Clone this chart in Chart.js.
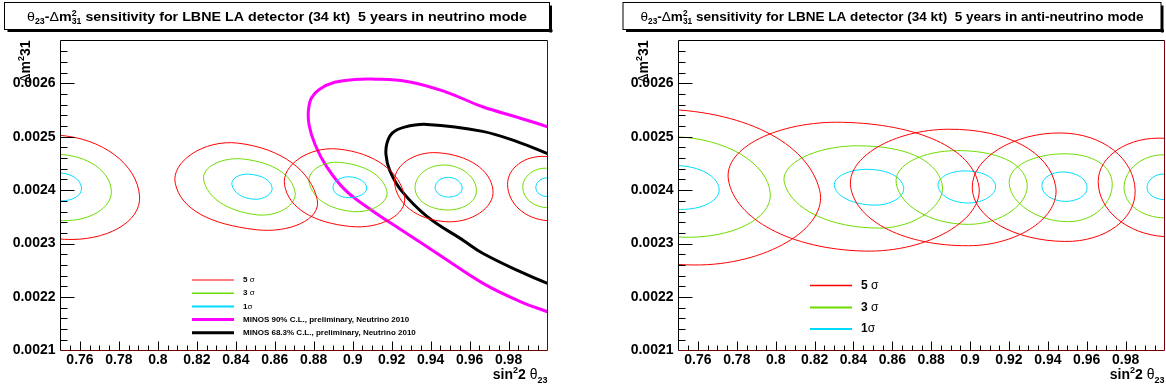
<!DOCTYPE html>
<html>
<head>
<meta charset="utf-8">
<script src="https://cdn.jsdelivr.net/npm/chart.js@4.4.1/dist/chart.umd.min.js"></script>
<style>
  html, body { margin: 0; padding: 0; background: #fff; }
  body { width: 1166px; height: 390px; overflow: hidden; position: relative; }
  .panel { position: absolute; top: 0; width: 583px; height: 390px; }
  #p1 { left: 0; }
  #p2 { left: 618px; }
</style>
</head>
<body>
<div class="panel" id="p1"><canvas id="c1" width="583" height="390"></canvas></div>
<div class="panel" id="p2"><canvas id="c2" width="583" height="390"></canvas></div>
<script>
/* ── axis ticks ─────────────────────────────────────── */
const xTicks = [0.76, 0.78, 0.80, 0.82, 0.84, 0.86, 0.88, 0.90, 0.92, 0.94, 0.96, 0.98];
const yTicks = [0.0021, 0.0022, 0.0023, 0.0024, 0.0025, 0.0026];
const X_MIN = 0.75, X_MAX = 1.0, Y_MIN = 0.0021, Y_MAX = 0.00268;

/* ── neutrino mode contours (left, top, right, bottom) ── */
const nuSigma5 = [
  [[0.7094, 0.002405], [0.748, 0.002503], [0.7906, 0.002389], [0.752, 0.002308]],
  [[0.8089, 0.002413], [0.841, 0.002488], [0.8818, 0.002382], [0.8504, 0.002326]],
  [[0.865, 0.00241], [0.8924, 0.002477], [0.9266, 0.002388], [0.899, 0.002332]],
  [[0.9215, 0.002413], [0.9438, 0.00247], [0.972, 0.0024], [0.9476, 0.002341]],
  [[0.9795, 0.00241], [0.999, 0.002463], [1.0205, 0.0024], [1.0, 0.002343]]
];
const nuSigma3 = [
  [[0.724, 0.002405], [0.749, 0.002467], [0.7761, 0.002399], [0.751, 0.002343]],
  [[0.8235, 0.002419], [0.8445, 0.002458], [0.8704, 0.002397], [0.8504, 0.002354]],
  [[0.8777, 0.002413], [0.8932, 0.002452], [0.9175, 0.002399], [0.9, 0.00236]],
  [[0.932, 0.002405], [0.9476, 0.002447], [0.9635, 0.002399], [0.9476, 0.002363]],
  [[0.9873, 0.002405], [0.9995, 0.002441], [1.012, 0.0024], [1.0, 0.002367]]
];
const nuSigma1 = [
  [[0.739, 0.002404], [0.7495, 0.002432], [0.7608, 0.002404], [0.7505, 0.00238]],
  [[0.838, 0.00241], [0.8466, 0.00243], [0.8586, 0.002405], [0.8494, 0.002383]],
  [[0.8899, 0.002405], [0.898, 0.002425], [0.9072, 0.002404], [0.898, 0.002386]],
  [[0.9423, 0.002405], [0.9491, 0.002424], [0.9562, 0.002404], [0.9491, 0.002387]],
  [[0.994, 0.002405], [1.0, 0.002423], [1.006, 0.002404], [1.0, 0.002388]]
];

/* ── MINOS allowed regions (neutrino panel only) ───── */
const minos90 = [
  [1.005, 0.002166], [0.9997, 0.002173], [0.9857, 0.002192], [0.9667, 0.002226],
  [0.9457, 0.002276], [0.9248, 0.002326], [0.9095, 0.002363], [0.8962, 0.0024],
  [0.8866, 0.002444], [0.8807, 0.002485], [0.8776, 0.002522], [0.8773, 0.00255],
  [0.8789, 0.002573], [0.883, 0.002589], [0.8907, 0.002602], [0.9009, 0.002607],
  [0.9096, 0.002608], [0.9286, 0.002603], [0.9476, 0.002584], [0.9667, 0.002556],
  [0.9857, 0.002535], [0.9997, 0.002519], [1.005, 0.002512]
];
const minos68 = [
  [1.005, 0.00222], [0.9997, 0.002226], [0.9857, 0.002248], [0.9667, 0.002282],
  [0.9572, 0.002305], [0.9381, 0.002351], [0.9248, 0.0024], [0.9189, 0.002438],
  [0.9171, 0.002466], [0.9176, 0.002488], [0.9204, 0.002507], [0.9266, 0.002518],
  [0.9381, 0.002523], [0.9667, 0.00251], [0.9857, 0.002489], [0.9997, 0.002469],
  [1.005, 0.002462]
];

/* ── anti-neutrino mode contours ────────────────────── */
const anuSigma5 = [
  [[0.678, 0.002405], [0.738, 0.002552], [0.8226, 0.0024], [0.758, 0.00226]],
  [[0.7757, 0.002419], [0.8344, 0.002527], [0.9045, 0.002408], [0.8458, 0.002286]],
  [[0.8386, 0.002405], [0.889, 0.002514], [0.944, 0.002407], [0.8992, 0.002296]],
  [[0.9011, 0.002404], [0.9468, 0.002507], [0.9849, 0.0024], [0.9487, 0.002304]],
  [[0.9659, 0.002416], [1.0, 0.002497], [1.034, 0.0024], [1.0, 0.002313]]
];
const anuSigma3 = [
  [[0.703, 0.002405], [0.748, 0.0025], [0.7972, 0.002394], [0.752, 0.002312]],
  [[0.8045, 0.002413], [0.842, 0.002483], [0.8855, 0.002413], [0.8534, 0.002329]],
  [[0.862, 0.002413], [0.8935, 0.002474], [0.9293, 0.002413], [0.8992, 0.002336]],
  [[0.9201, 0.002413], [0.9487, 0.002468], [0.9731, 0.002413], [0.9506, 0.002341]],
  [[0.9792, 0.002405], [1.0, 0.002466], [1.021, 0.0024], [1.0, 0.002348]]
];
const anuSigma1 = [
  [[0.729, 0.002405], [0.749, 0.002446], [0.7709, 0.002402], [0.751, 0.002364]],
  [[0.8302, 0.002408], [0.8477, 0.002439], [0.8658, 0.002405], [0.8506, 0.002372]],
  [[0.8835, 0.002408], [0.8973, 0.002436], [0.9131, 0.002408], [0.8992, 0.002376]],
  [[0.9369, 0.002408], [0.9483, 0.002434], [0.9602, 0.002405], [0.9487, 0.002379]],
  [[0.991, 0.002405], [1.0, 0.00243], [1.009, 0.0024], [1.0, 0.002382]]
];

// line colours (ROOT-ish)
const RED = '#ff0000', GREEN = '#6fdc00', CYAN = '#00dcff', MAGENTA = '#ff00ff', BLACK = '#000000';

const FONT = '"Liberation Sans", Arial, sans-serif';
const f = (px, bold) => (bold ? 'bold ' : '') + px + 'px ' + FONT;

// draws (or just measures) a run of text pieces with sub/superscripts
function textRuns(ctx, runs, x, y, draw) {
  let cx = x;
  for (const r of runs) {
    ctx.font = r.f;
    if (r.stack) {
      const w = Math.max(ctx.measureText(r.stack[0]).width, ctx.measureText(r.stack[1]).width);
      if (draw) {
        ctx.fillText(r.stack[0], cx, y + r.dy[0]);
        ctx.fillText(r.stack[1], cx, y + r.dy[1]);
      }
      cx += w;
    } else {
      if (draw) ctx.fillText(r.t, cx, y + (r.dy || 0));
      cx += ctx.measureText(r.t).width;
    }
  }
  return cx - x;
}

function titleRuns(mode) {
  return [
    { t: 'θ', f: f(13) }, { t: '23', f: f(8, true), dy: 3 },
    { t: '-', f: f(13, true) }, { t: 'Δ', f: f(13) }, { t: 'm', f: f(13, true) },
    { stack: ['2', '31'], f: f(8, true), dy: [-5, 3] },
    { t: ' sensitivity for LBNE LA detector (34 kt)  5 years in ' + mode + ' mode', f: f(13, true) }
  ];
}
const yTitleRuns = [{ t: 'Δ', f: f(14) }, { t: 'm', f: f(14, true) }, { t: '2', f: f(9, true), dy: -6 }, { t: '31', f: f(14, true) }];
const xTitleRuns = [{ t: 'sin', f: f(14, true) }, { t: '2', f: f(9, true), dy: -6 }, { t: '2 ', f: f(14, true) },
  { t: 'θ', f: f(14) }, { t: '23', f: f(9, true), dy: 4 }];

function sigmaRuns(n, space, size) {
  return [{ t: n + (space ? ' ' : ''), f: f(size, true) }, { t: 'σ', f: f(size) }];
}

// per-panel decoration (title box, legend)
const PANELS = {
  c1: {
    box: { x0: 4.5, x1: 549.5, y0: 2.5, y1: 29.5 },
    title: titleRuns('neutrino'), titleWidth: 500,
    legend: {
      y: [280, 293.2, 306.4, 319.6, 332.8],
      rows: [
        { color: RED, w: 1.2, runs: sigmaRuns('5', true, 8) },
        { color: GREEN, w: 1.5, runs: sigmaRuns('3', true, 8) },
        { color: CYAN, w: 2, runs: sigmaRuns('1', false, 8) },
        { color: MAGENTA, w: 3, runs: [{ t: 'MINOS 90% C.L., preliminary, Neutrino 2010', f: f(8, true) }] },
        { color: BLACK, w: 3, runs: [{ t: 'MINOS 68.3% C.L., preliminary, Neutrino 2010', f: f(8, true) }] }
      ]
    }
  },
  c2: {
    box: { x0: 5, x1: 543, y0: 2.5, y1: 29.5 },
    title: titleRuns('anti-neutrino'), titleWidth: 503,
    legend: {
      y: [285.5, 307.5, 329],
      rows: [
        { color: RED, w: 1.5, runs: sigmaRuns('5', true, 12) },
        { color: GREEN, w: 2, runs: sigmaRuns('3', true, 12) },
        { color: CYAN, w: 2, runs: sigmaRuns('1', false, 12) }
      ]
    }
  }
};

const rootPad = {
  id: 'rootPad',
  afterDatasetUpdate(chart, args) {
    // closed contours: let the line element wrap round smoothly
    if (chart.data.datasets[args.index].closed) args.meta.dataset._loop = true;
  },
  afterDraw(chart) {
    const cfg = PANELS[chart.canvas.id];
    const ctx = chart.ctx, a = chart.chartArea;
    const xs = chart.scales.x, ys = chart.scales.y;
    ctx.save();

    // frame
    ctx.lineWidth = 1;
    ctx.strokeStyle = '#000';
    ctx.beginPath();
    ctx.moveTo(a.left, a.bottom); ctx.lineTo(a.left, a.top); ctx.lineTo(a.right, a.top);
    ctx.stroke();
    ctx.strokeStyle = '#7a0000';
    ctx.beginPath();
    ctx.moveTo(a.left, a.bottom); ctx.lineTo(a.right, a.bottom); ctx.lineTo(a.right, a.top);
    ctx.stroke();

    // inward ticks
    ctx.strokeStyle = '#000';
    ctx.beginPath();
    const yStep = (yTicks[1] - yTicks[0]) / 5;
    for (let i = 1; i * yStep + Y_MIN < Y_MAX - 1e-9; i++) {
      const p = Math.round(ys.getPixelForValue(Y_MIN + i * yStep)) + 0.5;
      const len = i % 5 === 0 ? 14 : 7;
      ctx.moveTo(a.left, p); ctx.lineTo(a.left + len, p);
    }
    const xStep = (xTicks[1] - xTicks[0]) / 4;
    for (let i = 1; i * xStep + X_MIN < X_MAX - 1e-9; i++) {
      const p = Math.round(xs.getPixelForValue(X_MIN + i * xStep)) + 0.5;
      const len = (i - 2) % 4 === 0 ? 9 : 5;
      ctx.moveTo(p, a.bottom); ctx.lineTo(p, a.bottom - len);
    }
    ctx.stroke();

    // title pave with shadow
    const b = cfg.box;
    ctx.fillStyle = '#000';
    ctx.fillRect(b.x0 + 3, b.y1, b.x1 - b.x0, 2.5);
    ctx.fillRect(b.x1, b.y0 + 3, 2.5, b.y1 - b.y0);
    ctx.fillStyle = '#fff';
    ctx.fillRect(b.x0, b.y0, b.x1 - b.x0, b.y1 - b.y0);
    ctx.strokeStyle = '#000';
    ctx.strokeRect(b.x0, b.y0, b.x1 - b.x0, b.y1 - b.y0);
    ctx.fillStyle = '#000';
    ctx.textBaseline = 'alphabetic';
    const tw = textRuns(ctx, cfg.title, 0, 0, false);
    const sx = cfg.titleWidth / tw;   // ROOT stretches the title to the pave
    ctx.save();
    ctx.translate((b.x0 + b.x1) / 2 - cfg.titleWidth / 2, 21);
    ctx.scale(sx, 1.04);
    textRuns(ctx, cfg.title, 0, 0, true);
    ctx.restore();

    // axis titles
    const xw = textRuns(ctx, xTitleRuns, 0, 0, false);
    textRuns(ctx, xTitleRuns, a.right - xw, 379, true);
    ctx.save();
    ctx.translate(30, a.top);
    ctx.rotate(-Math.PI / 2);
    const yw = textRuns(ctx, yTitleRuns, 0, 0, false);
    textRuns(ctx, yTitleRuns, -yw, 0, true);
    ctx.restore();

    // legend
    ctx.textBaseline = 'middle';
    cfg.legend.rows.forEach((row, i) => {
      const y = cfg.legend.y[i];
      ctx.strokeStyle = row.color;
      ctx.lineWidth = row.w;
      ctx.beginPath(); ctx.moveTo(192, y); ctx.lineTo(234, y); ctx.stroke();
      ctx.fillStyle = '#000';
      textRuns(ctx, row.runs, 243, y, true);
    });
    ctx.restore();
  }
};

function contourSets(list, color) {
  return list.map(pts => ({
    data: pts.map(p => ({ x: p[0], y: p[1] })),
    borderColor: color, borderWidth: 1, tension: 0.5523,
    showLine: true, spanGaps: true, closed: true,
    pointRadius: 0, clip: 0
  }));
}
function curveSet(pts, color, width) {
  return {
    data: pts.map(p => ({ x: p[0], y: p[1] })),
    borderColor: color, borderWidth: width, tension: 0.4,
    showLine: true, pointRadius: 0, clip: 0
  };
}

function makePanel(id, datasets, padRight) {
  const tickFont = { family: 'Liberation Sans', size: 14, weight: 'bold' };
  return new Chart(document.getElementById(id), {
    type: 'scatter',
    data: { datasets },
    options: {
      responsive: false,
      animation: false,
      events: [],
      layout: { padding: { left: 0, top: 40.5, right: padRight, bottom: 0 } },
      elements: { line: { capBezierPoints: false } },
      plugins: { legend: { display: false }, title: { display: false }, tooltip: { enabled: false } },
      scales: {
        x: {
          type: 'linear', position: 'bottom', min: X_MIN, max: X_MAX,
          grid: { display: false, drawTicks: false }, border: { display: false },
          ticks: { font: tickFont, color: '#000', padding: 1, autoSkip: false, maxRotation: 0,
            callback: v => String(Number(v.toFixed(2))) },
          afterBuildTicks: s => { s.ticks = xTicks.map(v => ({ value: v })); },
          afterFit: s => { s.height = 39.5; }
        },
        y: {
          type: 'linear', position: 'left', min: Y_MIN, max: Y_MAX,
          grid: { display: false, drawTicks: false }, border: { display: false },
          ticks: { font: tickFont, color: '#000', padding: 5, autoSkip: false,
            callback: v => v.toFixed(4) },
          afterBuildTicks: s => { s.ticks = yTicks.map(v => ({ value: v })); },
          afterFit: s => { s.width = 60.5; }
        }
      }
    },
    plugins: [rootPad]
  });
}

makePanel('c1', [
  ...contourSets(nuSigma5, RED),
  ...contourSets(nuSigma3, GREEN),
  ...contourSets(nuSigma1, CYAN),
  curveSet(minos90, MAGENTA, 3),
  curveSet(minos68, BLACK, 3)
], 35.5);

makePanel('c2', [
  ...contourSets(anuSigma5, RED),
  ...contourSets(anuSigma3, GREEN),
  ...contourSets(anuSigma1, CYAN)
], 36.5);
</script>
</body>
</html>
